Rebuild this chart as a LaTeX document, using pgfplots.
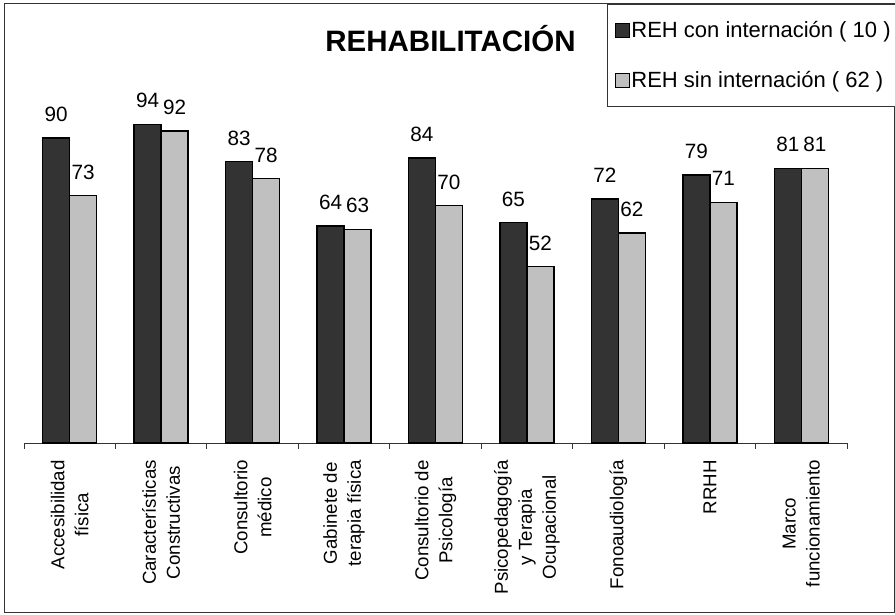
\documentclass[border=0pt]{standalone}
\usepackage{fontspec}
\setmainfont{Liberation Sans}
\usepackage{pgfplots}
\pgfplotsset{compat=1.18}
\definecolor{darkbar}{HTML}{333333}
\definecolor{lightbar}{HTML}{C0C0C0}
\pgfplotsset{sqlegend/.style={legend image code/.code={\draw[##1, line width=1pt] (0pt,-7pt) rectangle (14pt,6.5pt);}}}
\begin{document}
\begin{tikzpicture}
\useasboundingbox (0pt,0pt) rectangle (895pt,614pt);
\draw[line width=1pt, black!80] (4pt,2pt) rectangle (894pt,610pt);
\node[anchor=base, inner sep=0pt, font=\fontsize{29.5}{34}\selectfont\bfseries] at (450.5pt,562.3pt) {REHABILITACIÓN};
\begin{axis}[
  at={(24pt,171pt)}, anchor=south west,
  scale only axis, width=823pt, height=339pt,
  xmin=0, xmax=9, ymin=0, ymax=100,
  clip=false,
  axis x line*=bottom, axis y line=none,
  x axis line style={-, line width=0.8pt, black!80},
  ybar=0pt, bar width=27pt,
  xtick={0.5,1.5,...,8.5},
  xticklabels={{Accesibilidad\\física},{Características\\Constructivas},{Consultorio\\médico},{Gabinete de\\terapia física},{Consultorio de\\Psicología},{Psicopedagogía\\y Terapia\\Ocupacional},{Fonoaudiología},{RRHH},{Marco\\funcionamiento}},
  major tick length=0pt,
  minor xtick={0,1,...,9},
  minor tick length=6pt,
  tick align=outside,
  minor x tick style={line width=0.8pt, black!80},
  x tick label style={rotate=90, anchor=east, align=center, font=\fontsize{18.7}{24}\selectfont, inner sep=0pt},
  xticklabel shift=17pt,
  /pgf/number format/assume math mode=true,
  nodes near coords,
  every node near coord/.append style={anchor=base, yshift=16.5pt, font=\fontsize{20.7}{24}\selectfont, inner sep=0pt},
  legend style={at={(0.70838,1.29499)}, anchor=north west, draw=black!80, line width=0.8pt,
    font=\fontsize{22}{25}\selectfont, inner xsep=7.5pt, inner ysep=1pt, row sep=0pt, column sep=0pt,
    nodes={minimum height=50pt, inner xsep=1.5pt}},
  legend cell align=left,
]
\addplot[ybar, fill=darkbar, draw=black, line width=1.5pt, sqlegend]
  coordinates {(0.5,90) (1.5,94) (2.5,83) (3.5,64) (4.5,84) (5.5,65) (6.5,72) (7.5,79) (8.5,81)};
\addlegendentry{REH con internación ( 10 )}
\addplot[ybar, fill=lightbar, draw=black, line width=1.5pt, sqlegend]
  coordinates {(0.5,73) (1.5,92) (2.5,78) (3.5,63) (4.5,70) (5.5,52) (6.5,62) (7.5,71) (8.5,81)};
\addlegendentry{REH sin internación ( 62 )}
\end{axis}
\end{tikzpicture}
\end{document}
